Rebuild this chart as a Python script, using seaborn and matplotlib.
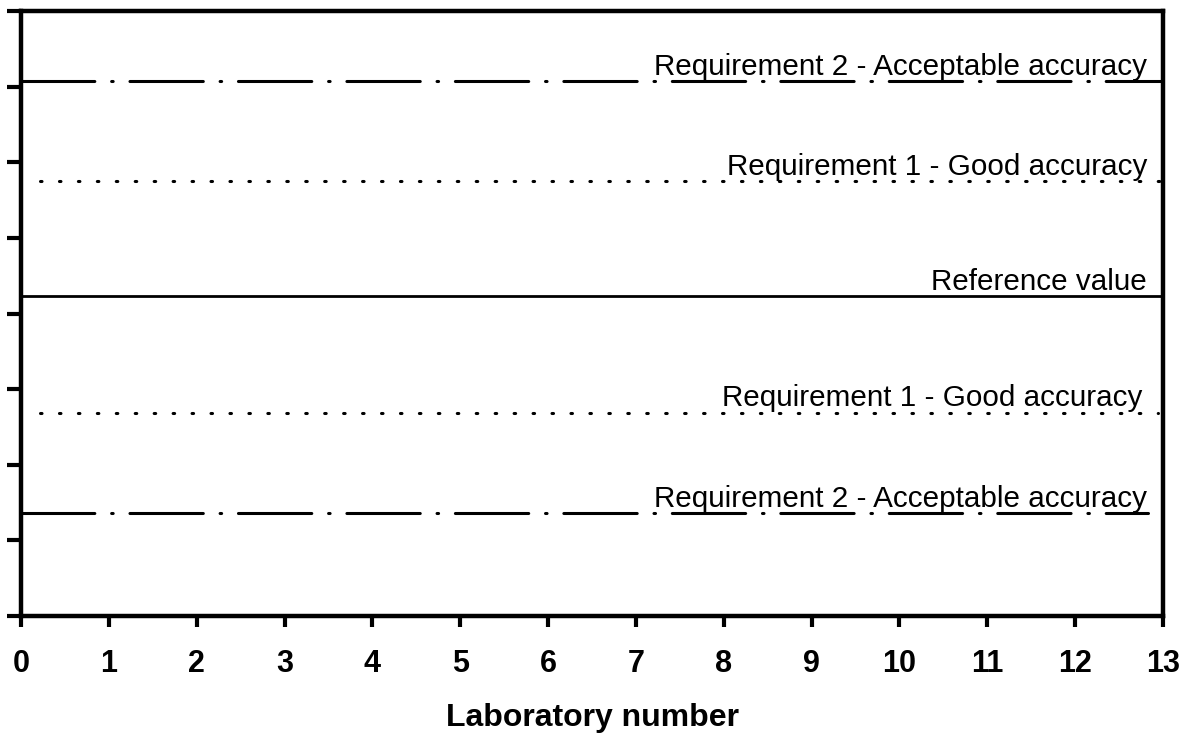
import matplotlib
matplotlib.use("Agg")
import matplotlib.pyplot as plt
import seaborn as sns
import pandas as pd

# limit lines (y in axis units, x = laboratory number)
line_names = ["Requirement 2 - Acceptable accuracy", "Requirement 1 - Good accuracy",
              "Reference value", "Requirement 1 - Good accuracy",
              "Requirement 2 - Acceptable accuracy"]
line_values = [7.07, 5.75, 4.23, 2.69, 1.36]
line_start = [0.0, 0.22, 0.0, 0.22, 0.0]
line_end = [13.0, 12.97, 13.0, 12.94, 12.83]
line_kinds = ["dashdot", "dotted", "solid", "dotted", "dashdot"]
label_end = [12.82, 12.82, 12.82, 12.76, 12.82]

x_ticks = list(range(0, 14))
y_ticks = list(range(0, 9))

sns.set_style("ticks")
plt.rcParams['font.family'] = ['Liberation Sans', 'DejaVu Sans']
plt.rcParams['text.color'] = 'black'
plt.rcParams['axes.labelcolor'] = 'black'
plt.rcParams['xtick.color'] = 'black'
plt.rcParams['ytick.color'] = 'black'

fig = plt.figure(figsize=(11.95, 7.44), dpi=100)
ax = fig.add_axes([21 / 1195, 1 - 616 / 744, 1142 / 1195, 605 / 744])

styles = {
    "dashdot": (0, (24, 5.5, 0.5, 5.5)),
    "dotted": (0, (0.5, 5.7)),
    "solid": "-",
}

# draw each limit line and its label
for i, name in enumerate(line_names):
    df = pd.DataFrame({"lab": [line_start[i], line_end[i]],
                       "value": [line_values[i], line_values[i]]})
    lw = 2.2 if line_kinds[i] != "solid" else 2.0
    sns.lineplot(data=df, x="lab", y="value", ax=ax, color="black",
                 linewidth=lw, linestyle=styles[line_kinds[i]],
                 dash_capstyle="round", solid_capstyle="butt")
    ax.text(label_end[i], line_values[i] + 0.085, name, ha="right", va="baseline",
            fontsize=21.3, color="black")

ax.set_xlim(0, 13)
ax.set_ylim(0, 8)
ax.set_xticks(x_ticks)
ax.set_yticks(y_ticks)
ax.set_yticklabels([])
ax.set_xticklabels([str(t) for t in x_ticks], fontsize=22, fontweight="bold", color="black")
ax.tick_params(axis="x", direction="out", length=8, width=3, pad=16, color="black")
ax.tick_params(axis="y", direction="out", length=10, width=3, color="black")
for s in ax.spines.values():
    s.set_linewidth(3.2)
    s.set_color("black")
ax.set_xlabel("Laboratory number", fontsize=23, fontweight="bold", labelpad=17, color="black")
ax.set_ylabel("")

fig.savefig("out.png", dpi=100)
